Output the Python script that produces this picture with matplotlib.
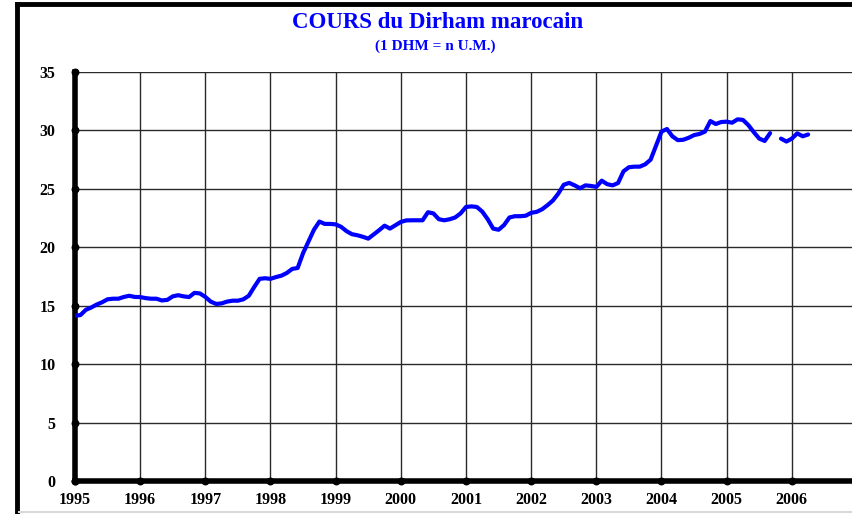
import matplotlib.pyplot as plt
import numpy as np

# cours mensuel du dirham, janvier 1995 -> avril 2006 (une valeur manquante en 2005)
cours_1995_1998 = [14.14, 14.2, 14.65, 14.85, 15.1, 15.3, 15.55, 15.6, 15.6, 15.75, 15.85, 15.75,
                   15.74, 15.65, 15.6, 15.6, 15.45, 15.5, 15.8, 15.9, 15.8, 15.74, 16.1, 16.05,
                   15.75, 15.35, 15.15, 15.2, 15.35, 15.43, 15.43, 15.55, 15.85, 16.6, 17.3, 17.35,
                   17.3, 17.45, 17.57, 17.8, 18.15, 18.23, 19.5, 20.5, 21.5, 22.2, 22.0, 22.0]
cours_1999_2002 = [21.96, 21.75, 21.38, 21.12, 21.03, 20.9, 20.74, 21.1, 21.46, 21.85, 21.6, 21.89,
                   22.17, 22.3, 22.31, 22.31, 22.31, 23.0, 22.9, 22.4, 22.31, 22.4, 22.55, 22.9,
                   23.45, 23.5, 23.45, 23.05, 22.4, 21.6, 21.5, 21.9, 22.55, 22.66, 22.66, 22.7,
                   22.95, 23.03, 23.25, 23.6, 24.0, 24.6, 25.35, 25.51, 25.3, 25.05, 25.3, 25.25]
cours_2003_2006 = [25.17, 25.7, 25.4, 25.3, 25.5, 26.5, 26.85, 26.9, 26.9, 27.1, 27.5, 28.7,
                   29.9, 30.12, 29.5, 29.17, 29.2, 29.37, 29.6, 29.7, 29.9, 30.8, 30.55, 30.72,
                   30.75, 30.66, 30.95, 30.9, 30.45, 29.85, 29.3, 29.1, 29.77, np.nan, 29.3, 29.05,
                   29.3, 29.75, 29.5, 29.65]

annees = list(range(1995, 2007))
graduations_y = [0, 5, 10, 15, 20, 25, 30, 35]

cours = np.array(cours_1995_1998 + cours_1999_2002 + cours_2003_2006)
dates = 1995 + np.arange(len(cours)) / 12.0

plt.rcParams['font.family'] = ['Liberation Serif', 'DejaVu Serif']

fig = plt.figure(figsize=(8.52, 5.14), dpi=100)

# cadre noir autour du graphique
fig.add_artist(plt.Line2D([17 / 852, 17 / 852], [0, 1 - 4 / 514], color='black', lw=3.5))
fig.add_artist(plt.Line2D([17 / 852, 1], [1 - 4 / 514, 1 - 4 / 514], color='black', lw=3.5))
fig.add_artist(plt.Line2D([19 / 852, 1], [2.5 / 514, 2.5 / 514], color='#d8d8d8', lw=1.5))

ax = fig.add_axes([75 / 852, 33 / 514, 782 / 852, 409 / 514])
ax.plot(dates, cours, color='#0000ff', lw=3, solid_joinstyle='round', solid_capstyle='round', zorder=3)

ax.set_xlim(1995, 2007)
ax.set_ylim(0, 35)
ax.set_xticks(annees)
ax.set_yticks(graduations_y)
ax.set_xticklabels([str(a) for a in annees], fontsize=11.5, fontweight='bold')
ax.set_yticklabels([str(v) for v in graduations_y], fontsize=11.5, fontweight='bold')
ax.tick_params(axis='x', length=0, pad=8)
ax.tick_params(axis='y', length=0, pad=14)
ax.grid(True, color='#2a2a2a', lw=1)
ax.set_axisbelow(True)

for s in ['top', 'right']:
    ax.spines[s].set_visible(False)
ax.spines['left'].set_linewidth(4)
ax.spines['bottom'].set_linewidth(4)

# petits points aux graduations
ax.scatter(annees, [0] * len(annees), s=22, color='black', clip_on=False, zorder=4)
ax.scatter([1995] * len(graduations_y), graduations_y, s=22, color='black', clip_on=False, zorder=4)

fig.text(0.513, 0.956, 'COURS du Dirham marocain', ha='center', va='center',
         color='#0000ff', fontsize=16.5, fontweight='bold')
fig.text(0.511, 0.910, '(1 DHM = n U.M.)', ha='center', va='center',
         color='#0000ff', fontsize=11, fontweight='bold')

fig.savefig('out.png', dpi=100)
